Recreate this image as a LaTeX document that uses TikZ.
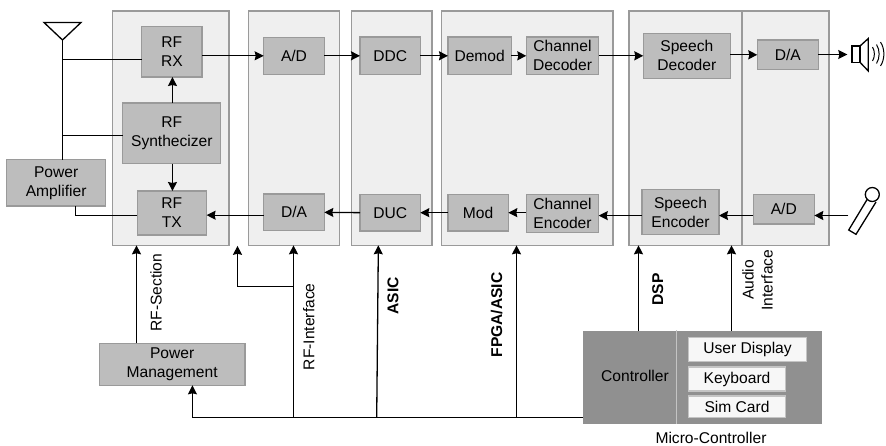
\documentclass[tikz,border=0pt]{standalone}
\usepackage{fontspec}
\setmainfont{Liberation Sans}
\definecolor{radioPanel}{HTML}{EFEFEF}
\definecolor{radioEdge}{HTML}{9A9A9A}
\definecolor{radioBlock}{HTML}{BDBDBD}
\definecolor{radioCtrl}{HTML}{909090}
\definecolor{radioKey}{HTML}{F7F7F7}
\definecolor{radioRule}{HTML}{C4C4C4}
\usetikzlibrary{
	arrows.meta,
	positioning
}

\begin{document}
\begin{tikzpicture}[x=1pt, y=-1pt,
		every node/.style={font=\fontsize{15.6}{19}\selectfont},
		panel/.style n args={2}{rectangle, draw=radioEdge, line width=1.1pt, fill=radioPanel, outer sep=0pt, inner sep=0pt, minimum width=#1, minimum height=#2},
		block/.style n args={2}{rectangle, draw=radioEdge, line width=1.1pt, fill=radioBlock, outer sep=0pt, inner sep=0pt, align=center, minimum width=#1, minimum height=#2},
		keybox/.style n args={2}{rectangle, draw=radioRule, line width=1.1pt, fill=radioKey, outer sep=0pt, inner sep=0pt, minimum width=#1, minimum height=#2},
		tag/.style={rotate=90, align=center, inner sep=0pt},
		boldtag/.style={rotate=90, align=center, inner sep=0pt, font=\fontsize{15.6}{19}\selectfont\bfseries},
		wire/.style={line width=1.3pt, draw=black},
		arrow/.style={-{Stealth[length=9pt, width=9pt, inset=1pt]}, line width=1.3pt, draw=black}
	]
		\useasboundingbox (0,0) rectangle (886,445);
		\node[panel={116.5pt}{234.3pt}, anchor=north west] (rfsec) at (112.5,11) {};
		\node[panel={91.4pt}{234.3pt}, right=19.3pt of rfsec] (rfint) {};
		\node[panel={80.7pt}{234.3pt}, right=11.6pt of rfint] (asic) {};
		\node[panel={171.7pt}{234.3pt}, right=9.3pt of asic] (fpga) {};
		\node[panel={113pt}{234.3pt}, right=16pt of fpga] (dsp) {};
		\node[panel={87pt}{234.3pt}, right=0pt of dsp] (audio) {};

		\node[block={60.3pt}{50.3pt}, below right=15.7pt and 29.2pt of rfsec.north west] (rx) {RF\\RX};
		\node[block={98pt}{60.7pt}, below=26pt of rx] (syn) {RF\\Synthecizer};
		\node[block={69.5pt}{44pt}, below=27.3pt of syn] (tx) {RF\\TX};
		\node[block={99pt}{46.3pt}, left=17.2pt of syn, yshift=-49.5pt] (pa) {Power\\Amplifier};
		\node[block={60.6pt}{37pt}, below right=26.3pt and 15.4pt of rfint.north west] (ad) {A/D};
		\node[block={60.6pt}{36.7pt}, below=119.7pt of ad] (dac) {D/A};
		\node[block={60.3pt}{37.6pt}, right=35.7pt of ad] (ddc) {DDC};
		\node[block={60.3pt}{36.7pt}, below=119.7pt of ddc] (duc) {DUC};
		\node[block={63.3pt}{37.6pt}, right=27.7pt of ddc] (demod) {Demod};
		\node[block={72.4pt}{37.6pt}, right=15pt of demod] (chdec) {Channel\\Decoder};
		\node[block={60.3pt}{36.7pt}, below right=119.7pt and 0pt of demod.south west] (mod) {Mod};
		\node[block={72.4pt}{38.3pt}, below=119.7pt of chdec] (chenc) {Channel\\Encoder};
		\node[block={87pt}{45pt}, right=44.6pt of chdec] (spdec) {Speech\\Decoder};
		\node[block={61pt}{29.6pt}, right=27pt of spdec, yshift=1pt] (dar) {D/A};
		\node[block={77pt}{45pt}, below right=111.3pt and -1.3pt of spdec.south west] (spenc) {Speech\\Encoder};
		\node[block={61pt}{29.7pt}, right=34.3pt of spenc, yshift=3pt] (adr) {A/D};

		\node[block={145.7pt}{42pt}, anchor=north west] (pm) at (99.3,343.3) {Power\\Management};

		\node[rectangle, fill=radioCtrl, outer sep=0pt, inner sep=0pt, minimum width=239pt, minimum height=92.7pt, anchor=north west] (mc) at (583,331) {};
		\node[keybox={118.4pt}{24pt}, below right=6.7pt and 105.3pt of mc.north west] (disp) {User Display};
		\node[keybox={97.4pt}{24pt}, below right=5.3pt and 0pt of disp.south west] (keys) {Keyboard};
		\node[keybox={97.4pt}{21.3pt}, below right=5pt and 0pt of keys.south west] (sim) {Sim Card};
		\node (ctrl) at (635,375.7) {Controller};
		\node[below=4.5pt of mc.south, xshift=8.5pt] (mclabel) {Micro-Controller};
		\coordinate (ruletop) at (676,330);
		\draw[radioRule, line width=1pt] (ruletop) -- (ruletop |- mc.south);

		\coordinate (ant) at (62.5,40);
		\draw[wire] (44,22.5) -- (81,22.5) -- (ant) -- cycle;
		\draw[wire] (ant) -- (ant |- pa.north);
		\draw[wire] ([yshift=-7.6pt]rx.west) -- ([yshift=-7.6pt]rx.west -| ant);
		\draw[wire] ([yshift=-2.2pt]syn.west) -- ([yshift=-2.2pt]syn.west -| ant);
		\draw[wire] ([yshift=-2.5pt]tx.west) -| ([xshift=19pt]pa.south);
		\draw[arrow] ([xshift=.6pt]syn.north) -- ([xshift=.6pt]rx.south);
		\draw[arrow] ([xshift=.6pt]syn.south) -- ([xshift=.6pt]tx.north);

		\draw[arrow] (rx.east |- ad.west) -- (ad.west);
		\draw[arrow] (ad.east) -- (ddc.west);
		\draw[arrow] (ddc.east) -- (demod.west);
		\draw[arrow] (demod.east) -- (chdec.west);
		\draw[arrow] (chdec.east) -- (spdec.west);
		\draw[arrow] (spdec.east |- dar.west) -- (dar.west);
		\coordinate (spk) at (847.3,54.5);
		\draw[arrow] (dar.east |- spk) -- (spk);

		\coordinate (mic) at (848.3,215.5);
		\draw[arrow] (mic) -- (mic -| adr.east);
		\draw[arrow] (adr.west |- mic) -- (mic -| spenc.east);
		\draw[arrow] ([yshift=-3.5pt]spenc.west) -- ([yshift=-3.5pt]spenc.west -| chenc.east);
		\draw[arrow] (chenc.west |- mod.east) -- (mod.east);
		\draw[arrow] (mod.west) -- (duc.east);
		\draw[arrow] (duc.west) -- (dac.east);
		\draw[arrow] ([yshift=-2.8pt]dac.west) -- ([yshift=-2.8pt]dac.west -| tx.east);

		\draw[wire] (852,46) rectangle (860,62.3);
		\draw[wire] (860,46) -- (868.3,38.5) -- (868.3,71) -- (860,62.3);
		\draw[line width=1pt] (872.5,47) .. controls (875,51) and (875,57) .. (872.5,61);
		\draw[line width=1pt] (876.5,44.5) .. controls (880,50) and (880,58) .. (876.5,63.5);
		\draw[line width=1pt] (880.5,42) .. controls (885,49) and (885,59) .. (880.5,66);

		\draw[wire] (868,198) -- (848.7,230) -- (856,234.3) -- (876,202);
		\draw[wire, fill=white] (872.3,194.5) circle[radius=7pt];

		\coordinate (busend) at (583,417.5);
		\coordinate (tapint) at (293.5,417.5);
		\coordinate (tapasic) at (376.7,417.5);
		\coordinate (tapfpga) at (516.5,417.5);
		\coordinate (tapbr) at (293.5,286.5);
		\coordinate (brup) at (237.5,245.8);
		\coordinate (dspup) at (638.5,331);
		\coordinate (audup) at (731.5,331);
		\draw[arrow] (busend) -| ([xshift=20.3pt]pm.south);
		\draw[arrow] (tapint) -- (tapint |- rfint.south);
		\draw[arrow] (tapbr) -| (brup);
		\draw[arrow] (tapasic) -- ([xshift=-13.3pt]asic.south);
		\draw[arrow] (tapfpga) -- (tapfpga |- fpga.south);
		\draw[arrow] (dspup) -- (dspup |- dsp.south);
		\draw[arrow] (audup) -- (audup |- dsp.south);
		\coordinate (pmup) at (136.5,343.3);
		\draw[arrow] (pmup) -- (pmup |- rfsec.south);

		\node[tag] (lblsec) at (156,292.7) {RF-Section};
		\node[tag] (lblint) at (308.7,326.7) {RF-Interface};
		\node[boldtag] (lblasic) at (393,296) {ASIC};
		\node[boldtag] (lblfpga) at (496.7,315) {FPGA/ASIC};
		\node[boldtag] (lbldsp) at (657.7,289.3) {DSP};
		\node[tag] (lblaud) at (757.5,280) {Audio\\Interface};
	\end{tikzpicture}
\end{document}
